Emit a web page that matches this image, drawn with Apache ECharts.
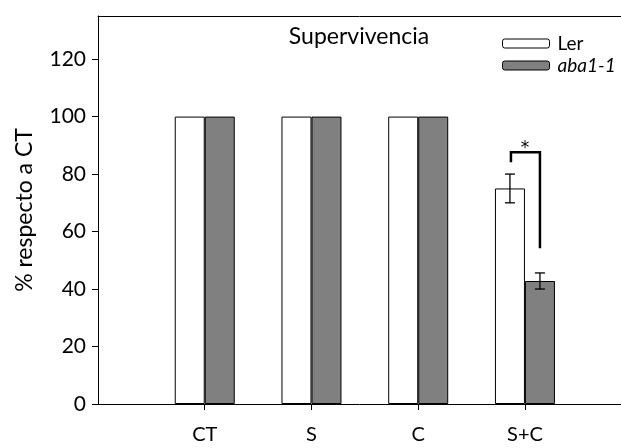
<!DOCTYPE html>
<html>
<head>
<meta charset="utf-8">
<script src="https://cdn.jsdelivr.net/npm/echarts@6/dist/echarts.min.js"></script>
<style>
html,body{margin:0;padding:0;background:#fff;}
#chart{width:621px;height:448px;}
</style>
</head>
<body>
<div id="chart"></div>
<script>
// ---- data ----
var categories = ['CT', 'S', 'C', 'S+C'];
var lerValues = [100, 100, 100, 75];
var abaValues = [100, 100, 100, 42.8];
var lerErrors = [null, null, null, 5];
var abaErrors = [null, null, null, 2.8];
var yTicks = [0, 20, 40, 60, 80, 100, 120];
var yMax = 135;
// significance bracket: category index, left low, top, right low
var sigBracket = [[4, 84.1, 87.6, 54.2]];
var sigLabel = '*';

var FONT = 'Lato';
var BW = 30;

var catPos = categories.map(function (c, i) { return i + 1; });

function errData(vals, errs, side) {
  var out = [];
  for (var i = 0; i < vals.length; i++) {
    if (errs[i] != null) out.push([catPos[i], vals[i], errs[i], side]);
  }
  return out;
}

var chart = echarts.init(document.getElementById('chart'), null, {renderer: 'canvas'});

var option = {
  animation: false,
  backgroundColor: '#fff',
  title: {
    text: 'Supervivencia',
    left: 354, top: 20, textAlign: 'center',
    textStyle: {fontFamily: FONT, fontSize: 23, fontWeight: 'normal', color: '#000'}
  },
  legend: {
    orient: 'vertical',
    left: 497, top: 29,
    itemWidth: 47, itemHeight: 9, itemGap: 3,
    textStyle: {fontFamily: FONT, fontSize: 19, color: '#000', padding: [0, 0, 0, 3]},
    data: [
      {name: 'Ler', itemStyle: {color: '#fff', borderColor: '#000', borderWidth: 1}},
      {name: 'aba1-1', itemStyle: {color: '#808080', borderColor: '#000', borderWidth: 1}, textStyle: {fontStyle: 'italic'}}
    ]
  },
  grid: {left: 98, right: 0, top: 16, bottom: 44},
  xAxis: [{
    type: 'value', min: 0, max: 4.9, interval: 1,
    splitLine: {show: false},
    axisLine: {show: true, lineStyle: {color: '#000', width: 1}},
    axisTick: {show: true, length: 6, customValues: catPos, lineStyle: {color: '#000'}},
    axisLabel: {
      customValues: catPos, margin: 21,
      fontFamily: FONT, fontSize: 20, color: '#000',
      formatter: function (v) { return categories[Math.round(v) - 1] || ''; }
    }
  }, {
    type: 'value', min: 0, max: 4.9, position: 'top',
    splitLine: {show: false},
    axisLine: {show: true, lineStyle: {color: '#000', width: 1}},
    axisTick: {show: false}, axisLabel: {show: false}
  }],
  yAxis: {
    type: 'value', min: 0, max: yMax, interval: 20,
    name: '% respecto a CT', nameLocation: 'middle', nameGap: 62,
    nameTextStyle: {fontFamily: FONT, fontSize: 23, color: '#000'},
    splitLine: {show: false},
    axisLine: {show: true, lineStyle: {color: '#000', width: 1}},
    axisTick: {show: true, length: 6, customValues: yTicks, lineStyle: {color: '#000'}},
    axisLabel: {customValues: yTicks, margin: 12, fontFamily: FONT, fontSize: 21, color: '#000'}
  },
  series: [
    {
      name: 'Ler', type: 'bar', barWidth: BW, barGap: '0%',
      itemStyle: {color: '#fff', borderColor: '#000', borderWidth: 1},
      data: lerValues.map(function (v, i) { return [catPos[i], v]; })
    },
    {
      name: 'aba1-1', type: 'bar', barWidth: BW, barGap: '0%',
      itemStyle: {color: '#808080', borderColor: '#000', borderWidth: 1},
      data: abaValues.map(function (v, i) { return [catPos[i], v]; })
    },
    {
      type: 'custom', silent: true, z: 5,
      data: errData(lerValues, lerErrors, -1).concat(errData(abaValues, abaErrors, 1)),
      renderItem: function (params, api) {
        var x = api.value(0), m = api.value(1), e = api.value(2), side = api.value(3);
        var top = api.coord([x, m + e]);
        var bot = api.coord([x, m - e]);
        var cx = top[0] + side * BW / 2;
        var hw = 5;
        var st = {stroke: '#000', lineWidth: 1.3};
        return {type: 'group', children: [
          {type: 'line', shape: {x1: cx, y1: top[1], x2: cx, y2: bot[1]}, style: st},
          {type: 'line', shape: {x1: cx - hw, y1: top[1], x2: cx + hw, y2: top[1]}, style: st},
          {type: 'line', shape: {x1: cx - hw, y1: bot[1], x2: cx + hw, y2: bot[1]}, style: st}
        ]};
      }
    },
    {
      type: 'custom', silent: true, z: 6,
      data: sigBracket,
      renderItem: function (params, api) {
        var x = api.value(0);
        var pL = api.coord([x, api.value(1)]);
        var pT = api.coord([x, api.value(2)]);
        var pR = api.coord([x, api.value(3)]);
        var xl = pT[0] - BW / 2 + 1, xr = pT[0] + BW / 2;
        return {type: 'group', children: [
          {type: 'polyline', shape: {points: [[xl, pL[1]], [xl, pT[1]], [xr, pT[1]], [xr, pR[1]]]},
           style: {stroke: '#000', lineWidth: 2.5, fill: null}},
          {type: 'text', x: pT[0], y: pT[1] - 4,
           style: {text: sigLabel, fontFamily: 'DejaVu Sans', fontSize: 17, fill: '#000', align: 'center', verticalAlign: 'middle'}}
        ]};
      }
    }
  ]
};
chart.setOption(option);
</script>
</body>
</html>
